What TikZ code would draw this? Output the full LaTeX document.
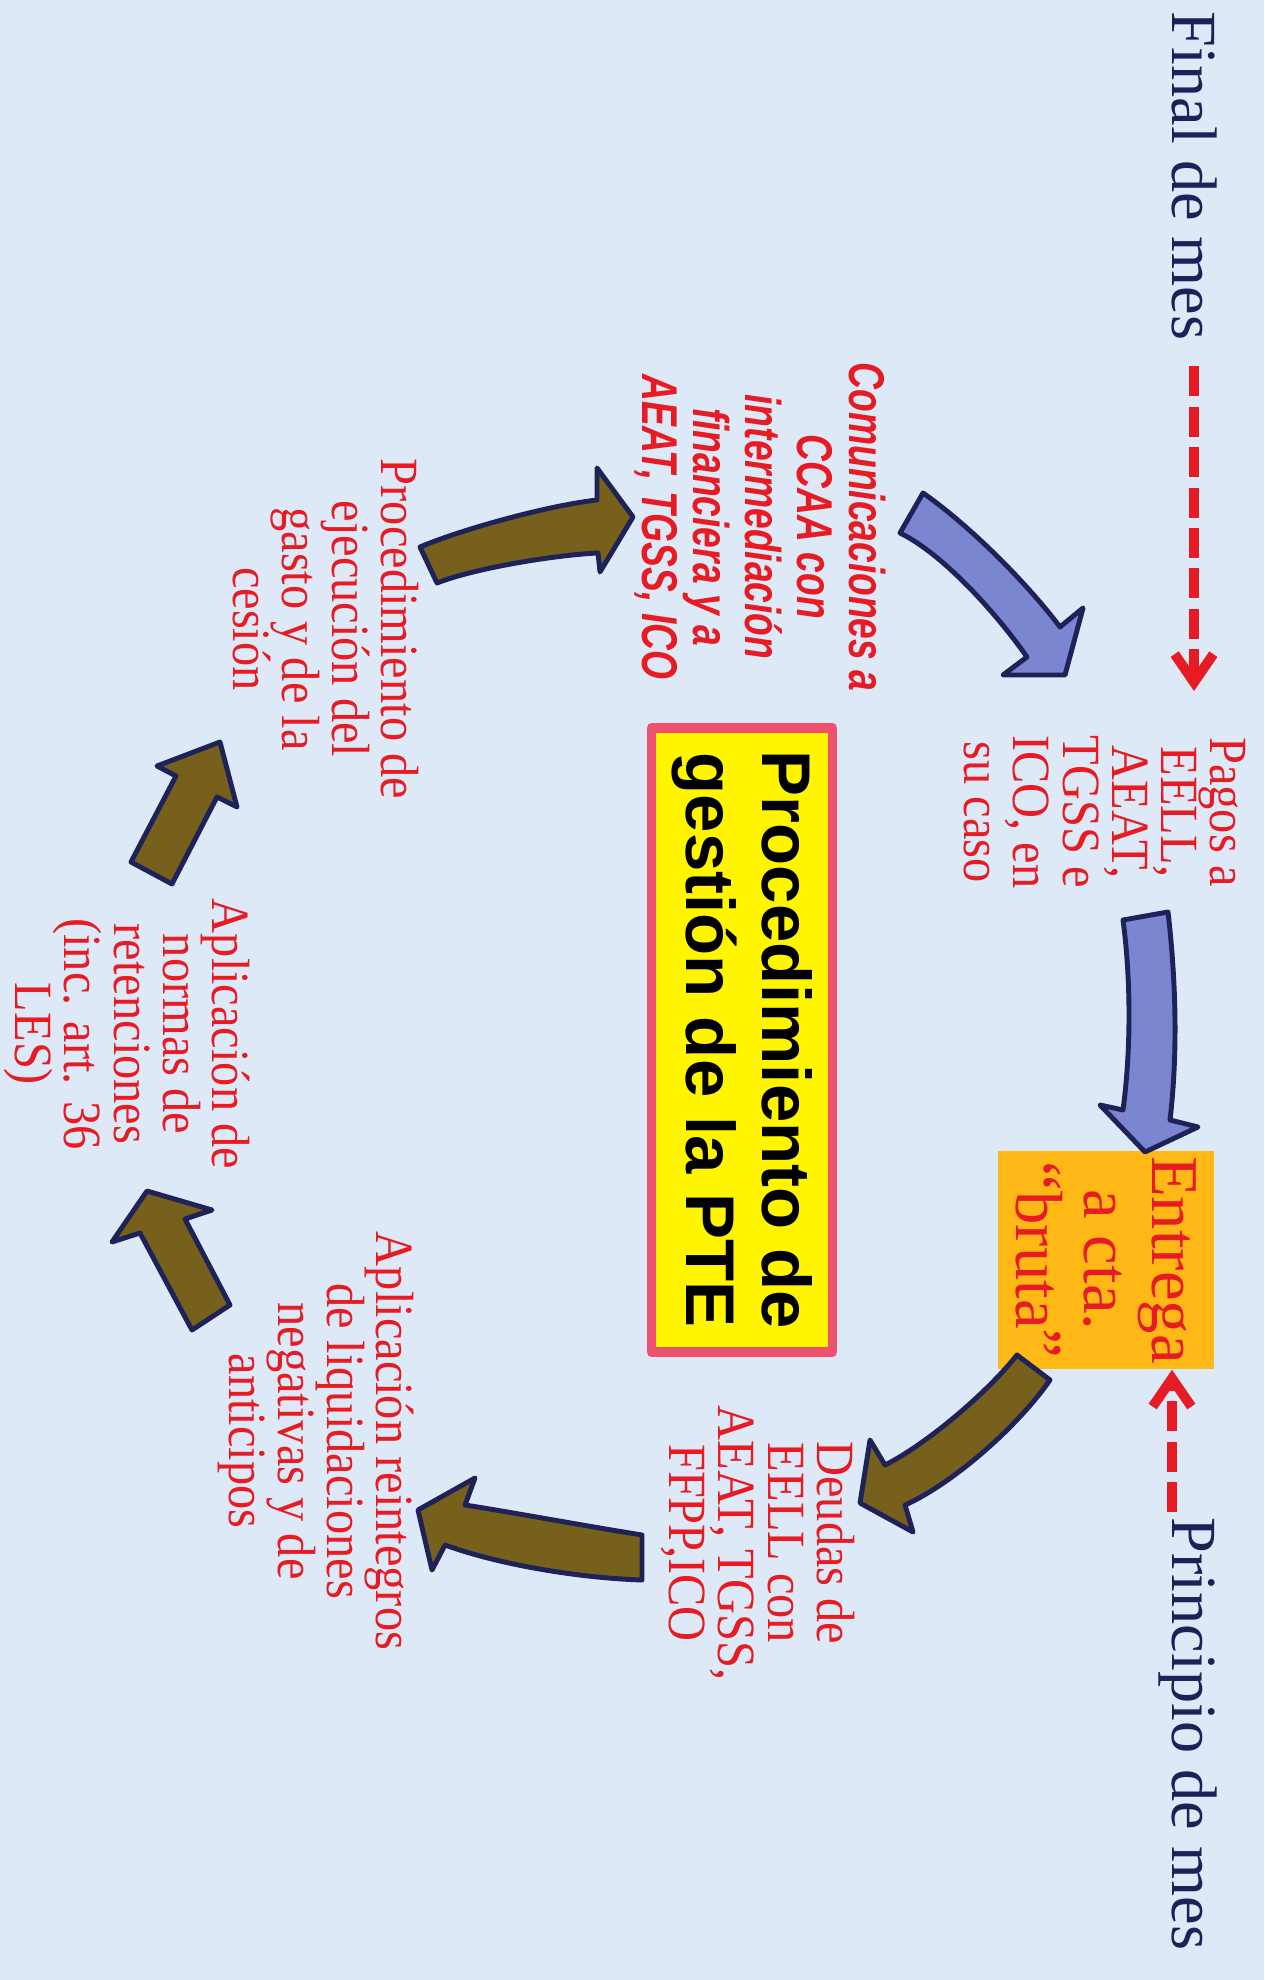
\documentclass[tikz,border=0pt]{standalone}
\usepackage{fontspec}
\setmainfont{Liberation Serif}
\setsansfont{Liberation Sans}
\usetikzlibrary{arrows.meta}
\definecolor{slidebg}{RGB}{221,233,246}
\definecolor{navytext}{RGB}{28,33,88}
\definecolor{redtext}{RGB}{230,27,35}
\definecolor{arrowblue}{RGB}{122,134,208}
\definecolor{arrowbrown}{RGB}{118,96,28}
\definecolor{outline}{RGB}{30,34,88}
\definecolor{boxorange}{RGB}{255,184,22}
\definecolor{boxyellow}{RGB}{255,245,0}
\definecolor{boxpink}{RGB}{238,82,110}
\tikzset{
  vtext/.style={rotate=-90, inner sep=0pt, align=center},
  redblock/.style={vtext, text=redtext, xscale=0.9, font=\fontsize{15.3}{14}\selectfont},
  monthlabel/.style={vtext, text=navytext, font=\fontsize{18.3}{20}\selectfont},
  monthdash/.style={draw=redtext, line width=2.8pt, dash pattern=on 8.5pt off 3pt,
    -{Straight Barb[length=8pt,width=11pt]}},
  bluearrow/.style={fill=arrowblue, draw=outline, line width=1.4pt, line join=round},
  brownarrow/.style={fill=arrowbrown, draw=outline, line width=1.4pt, line join=round}
}
\begin{document}
\begin{tikzpicture}[x=0.01cm, y=-0.01cm, line join=round]
  \fill[slidebg] (0,0) rectangle (1264,1980);
  \useasboundingbox (0,0) rectangle (1264,1980);
  % month labels
  \node[monthlabel, anchor=base west] (finmes) at (1172,11) {Final de mes};
  \node[monthlabel, anchor=base west] (iniciomes) at (1172,1517) {Principio de mes};
  % boxes
  \node[vtext, fill=boxorange, minimum width=2.18cm, minimum height=2.16cm, text=redtext,
    font=\fontsize{19}{19.3}\selectfont] (entrega) at (1106,1260) {Entrega\\a cta.\\“bruta”};
  \node[vtext, fill=boxyellow, draw=boxpink, line width=2.8pt, minimum width=6.24cm,
    minimum height=1.81cm, font=\sffamily\bfseries\fontsize{19.6}{21.8}\selectfont]
    (pte) at (742,1040) {Procedimiento de\\gestión de la PTE};
  % texts round the cycle
  \node[redblock] (pagos) at (1105,812) {Pagos a\\EELL,\\AEAT,\\TGSS e\\ICO, en\\su caso};
  \node[redblock] (deudas) at (758,1543) {Deudas de\\EELL con\\AEAT, TGSS,\\FFPP,ICO};
  \node[redblock] (reintegros) at (316,1441) {Aplicación reintegros\\de liquidaciones\\negativas y de\\anticipos};
  \node[redblock] (retenciones) at (127,1034) {Aplicación de\\normas de\\retenciones\\(inc. art. 36\\LES)};
  \node[redblock] (ejecucion) at (326,629) {Procedimiento de\\ejecución del\\gasto y de la\\cesión};
  \node[vtext, text=redtext, xscale=0.74, font=\sffamily\bfseries\itshape\fontsize{14.3}{14.7}\selectfont]
    (comunic) at (760,527) {Comunicaciones a\\CCAA con\\intermediación\\financiera y a\\AEAT, TGSS, ICO};
  % dashed month arrows
  \path (1194,691) coordinate (pagostip);
  \draw[monthdash, shorten <=0.25cm] (finmes.east) -- (finmes.east |- pagostip);
  \draw[monthdash, shorten <=0.05cm] (iniciomes.base west) -- (iniciomes.base west |- entrega.east);
  % block arrows
  \filldraw[bluearrow] (923,493) .. controls (973,528) and (1030,587) .. (1060,627) -- (1083,608)
    -- (1065,675) -- (1003,675) -- (1027,657) .. controls (999,617) and (945,555) .. (900,533) -- cycle;
  \filldraw[bluearrow] (1123,920) -- (1168,912) .. controls (1177,990) and (1177,1060) .. (1170,1120)
    -- (1198,1127) -- (1145,1152) -- (1100,1105) -- (1123,1110) .. controls (1131,1050) and (1131,980) .. (1123,920) -- cycle;
  \filldraw[brownarrow] (1017,1355) .. controls (985,1395) and (925,1445) .. (885,1465) -- (870,1440)
    -- (860,1503) -- (913,1532) -- (905,1505) .. controls (950,1485) and (1015,1430) .. (1050,1380) -- cycle;
  \filldraw[brownarrow] (642,1535) .. controls (580,1525) and (510,1512) .. (465,1505) -- (475,1478)
    -- (418,1510) -- (432,1570) -- (445,1545) .. controls (500,1565) and (580,1578) .. (642,1580) -- cycle;
  \filldraw[brownarrow] (230,1305) -- (185,1219) -- (212,1210) -- (147,1191) -- (112,1242)
    -- (140,1233) -- (192,1330) -- cycle;
  \filldraw[brownarrow] (172,884) -- (217,797) -- (237,807) -- (220,742) -- (157,766)
    -- (176,776) -- (131,862) -- cycle;
  \filldraw[brownarrow] (420,547) .. controls (460,530) and (545,506) .. (597,500) -- (597,468)
    -- (633,517) -- (600,572) -- (598,553) .. controls (555,555) and (475,568) .. (437,583) -- cycle;
\end{tikzpicture}
\end{document}
